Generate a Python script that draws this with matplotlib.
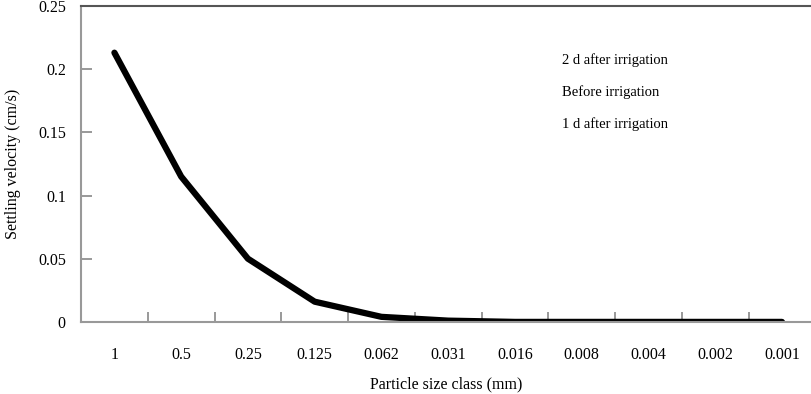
import matplotlib
matplotlib.use("Agg")
import matplotlib.pyplot as plt
import numpy as np

# ==============================
# Data
# ==============================
size_classes = ["1", "0.5", "0.25", "0.125", "0.062", "0.031",
                "0.016", "0.008", "0.004", "0.002", "0.001"]
velocity = [0.213, 0.115, 0.050, 0.016, 0.004, 0.001,
            0.0, 0.0, 0.0, 0.0, 0.0]
legend_labels = ["2 d after irrigation", "Before irrigation", "1 d after irrigation"]
y_ticks = [0, 0.05, 0.1, 0.15, 0.2, 0.25]
y_tick_labels = ["0", "0.05", "0.1", "0.15", "0.2", "0.25"]

plt.rcParams["font.family"] = ["Liberation Serif", "DejaVu Serif"]

fig = plt.figure(figsize=(8.12, 3.94), dpi=100)
ax = fig.add_axes([0.0998, 0.183, 0.9002, 0.802])

x = np.arange(len(size_classes))
ax.plot(x, velocity, color="black", linewidth=4.5, solid_joinstyle="round",
        solid_capstyle="round")

ax.set_xlim(-0.5, 10.45)
ax.set_ylim(0, 0.25)

# category boundaries as tick marks, labels at centers
ax.set_xticks(np.arange(0.5, len(size_classes) - 0.5, 1.0))
ax.set_xticklabels([])
ax.set_xticks(x, minor=True)
ax.set_xticklabels(size_classes, minor=True)
ax.tick_params(axis="x", which="major", direction="in", length=7, color="#888888", width=1.2)
ax.tick_params(axis="x", which="minor", length=0, pad=18, labelsize=11.5)

ax.set_yticks(y_ticks)
ax.set_yticklabels(y_tick_labels)
ax.tick_params(axis="y", direction="in", length=8, color="#888888", width=1.2,
               pad=11, labelsize=11.5)

ax.spines["right"].set_visible(False)
ax.spines["left"].set_color("#999999")
ax.spines["bottom"].set_color("#999999")
ax.spines["top"].set_color("#555555")
for s in ["left", "bottom", "top"]:
    ax.spines[s].set_linewidth(1.5)

ax.set_xlabel("Particle size class (mm)", fontsize=11.5, labelpad=10)
ax.set_ylabel("Settling velocity (cm/s)", fontsize=11.5, labelpad=12)

for k, lab in enumerate(legend_labels):
    ax.text(0.6583, 0.827 - k * 0.1006, lab, transform=ax.transAxes,
            fontsize=10.5, va="center", ha="left")

fig.savefig("out.png", dpi=100)
